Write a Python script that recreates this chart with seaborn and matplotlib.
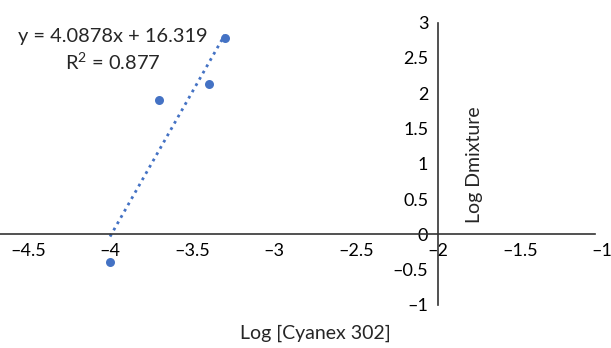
import matplotlib
matplotlib.use("Agg")
import matplotlib.pyplot as plt
import seaborn as sns
import pandas as pd

# data
log_cyanex = [-4.0, -3.699, -3.398, -3.301]
log_d = [-0.39, 1.90, 2.13, 2.78]
x_ticks = [-4.5, -4, -3.5, -3, -2.5, -2, -1.5, -1]
y_ticks = [-1, -0.5, 0, 0.5, 1, 1.5, 2, 2.5, 3]
eq_text = "y = 4.0878x + 16.319"
r2_text = "R$^2$ = 0.877"

df = pd.DataFrame({"x": log_cyanex, "y": log_d})

sns.set_style("white")
plt.rcParams["font.family"] = ["Lato", "DejaVu Sans"]
plt.rcParams["mathtext.fontset"] = "custom"
plt.rcParams["mathtext.rm"] = "Lato"
plt.rcParams["mathtext.it"] = "Lato:italic"
plt.rcParams["font.size"] = 13

fig = plt.figure(figsize=(6.11, 3.48), dpi=100)
ax = fig.add_axes([0.046, 0.124, 0.939, 0.811])

sns.regplot(data=df, x="x", y="y", ax=ax, ci=None, color="#4472C4",
            scatter_kws={"s": 42, "linewidths": 0, "alpha": 1, "zorder": 3},
            line_kws={"linestyle": (0, (1, 1.6)), "linewidth": 2})

ax.set_xlim(-4.5, -1)
ax.set_ylim(-1, 3)
ax.set_xticks(x_ticks)
ax.set_yticks(y_ticks)
ax.set_xticklabels([f"{t:g}".replace("-", "\u2013") for t in x_ticks])
ax.set_yticklabels([f"{t:g}".replace("-", "\u2013") for t in y_ticks])

ax.spines["left"].set_position(("data", -2))
ax.spines["bottom"].set_position(("data", 0))
ax.spines["right"].set_visible(False)
ax.spines["top"].set_visible(False)
for s in ["left", "bottom"]:
    ax.spines[s].set_color("#333333")
    ax.spines[s].set_linewidth(1.2)
ax.spines["bottom"].set_bounds(-4.67, -1.04)
ax.tick_params(length=0, labelsize=13, colors="black")
ax.tick_params(axis="x", pad=6)
ax.tick_params(axis="y", pad=7)

ax.set_xlabel("")
ax.set_ylabel("")
fig.text(0.516, 0.043, "Log [Cyanex 302]", ha="center", va="center", fontsize=14)
fig.text(0.777, 0.526, "Log Dmixture", ha="center", va="center", rotation=90, fontsize=14)

fig.text(0.185, 0.894, eq_text, ha="center", va="center", fontsize=14.4)
fig.text(0.185, 0.822, r2_text, ha="center", va="center", fontsize=14.4)

fig.savefig("out.png", dpi=100)
